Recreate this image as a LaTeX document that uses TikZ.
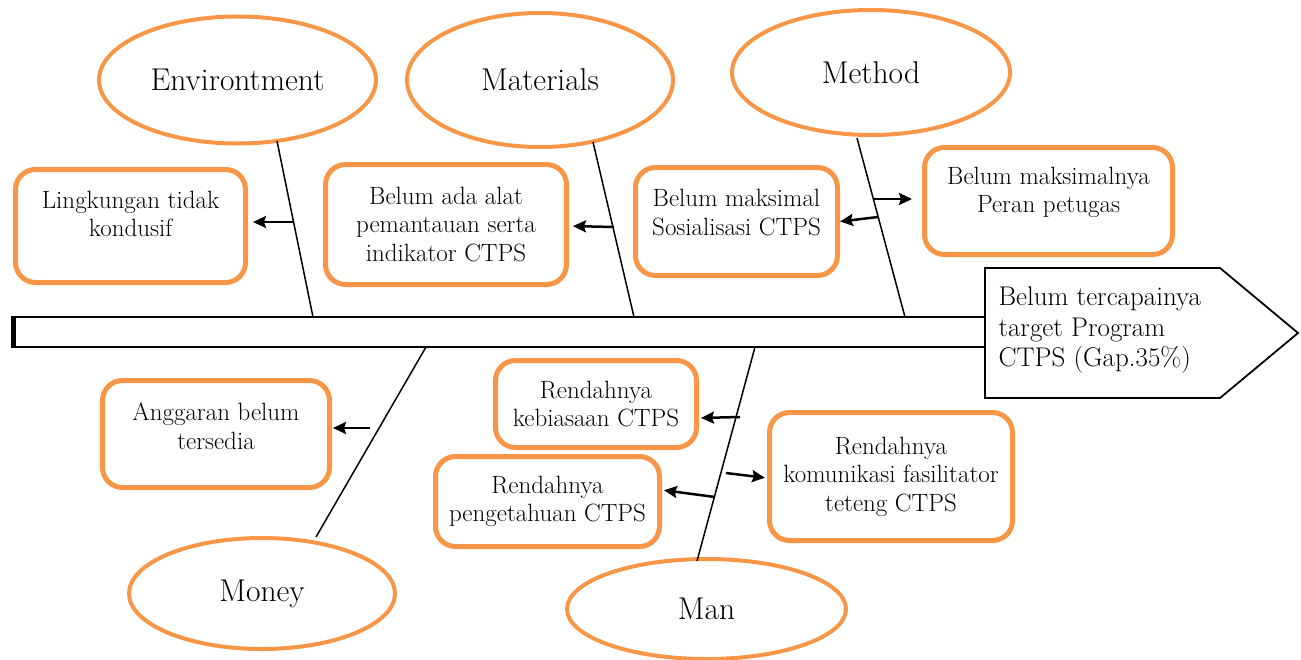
\documentclass[tikz,border=0pt]{standalone}
\usepackage{fontspec}
\usetikzlibrary{shapes.geometric,arrows.meta}
\definecolor{orng}{RGB}{247,150,70}

\begin{document}
\begin{tikzpicture}[x=1pt,y=-1pt,
    >={Stealth[length=13pt,width=12pt,inset=2pt]},
    cause/.style={ellipse, draw=orng, line width=4pt, inner sep=0pt,
                  font=\fontsize{31.5}{36}\selectfont},
    problem/.style={rectangle, rounded corners=20pt, draw=orng, line width=5pt,
                  align=center, font=\fontsize{25}{28.5}\selectfont},
    note/.style={align=center, font=\fontsize{25}{28.5}\selectfont},
    bone/.style={black, line width=1.5pt},
    link/.style={black, line width=2.5pt, shorten >=2pt}]

\useasboundingbox (0,0) rectangle (1301,659);

% spine and head
\draw[line width=2pt] (12,317) rectangle (985,347);
\draw[line width=4.5pt] (13.5,317) -- (13.5,347);
\draw[line width=1.8pt] (985,268) -- (1220,268) -- (1298,333) -- (1220,398)
    -- (985,398) -- cycle;
\node[anchor=west, align=left, font=\fontsize{27}{30.5}\selectfont]
    (gap) at (995,330) {Belum tercapainya\\target Program\\CTPS (Gap.35\%)};

% causes
\node[cause, minimum width=277pt, minimum height=127pt] (env) at (237.5,80)  {Environtment};
\node[cause, minimum width=266pt, minimum height=134pt] (mat) at (540,80)    {Materials};
\node[cause, minimum width=278pt, minimum height=125pt] (met) at (871,72.5)  {Method};
\node[cause, minimum width=266pt, minimum height=111pt] (mon) at (262,593.5) {Money};
\node[cause, minimum width=279pt, minimum height=100pt] (man) at (706.5,609) {Man};

% bones
\coordinate (envT) at (277,141);  \coordinate (envB) at (313,317);
\coordinate (matT) at (593,142);  \coordinate (matB) at (634,317);
\coordinate (metT) at (857,138);  \coordinate (metB) at (905,317);
\coordinate (monT) at (426,347);  \coordinate (monB) at (316,537);
\coordinate (manT) at (755,347);  \coordinate (manB) at (697,561);

\draw[bone] (envT) -- (envB);
\draw[bone] (matT) -- (matB);
\draw[bone] (metT) -- (metB);
\draw[bone] (monT) -- (monB);
\draw[bone] (manT) -- (manB);

% sub causes
\node[problem, minimum width=230pt, minimum height=113pt,
      label={[note, yshift=12pt]center:{Lingkungan tidak\\kondusif}}]
      (lingk) at (130.5,226) {};
\node[problem, minimum width=241pt, minimum height=120pt]
      (alat) at (446,224.5) {Belum ada alat\\pemantauan serta\\indikator CTPS};
\node[problem, minimum width=202pt, minimum height=108pt,
      label={[note, yshift=9pt]center:{Belum maksimal\\Sosialisasi CTPS}}]
      (sosial) at (736.5,221.5) {};
\node[problem, minimum width=248pt, minimum height=107pt,
      label={[note, yshift=8.5pt]center:{Belum maksimalnya\\Peran petugas}}]
      (peran) at (1048.5,201) {};
\node[problem, minimum width=227pt, minimum height=107pt,
      label={[note, yshift=7.5pt]center:{Anggaran belum\\tersedia}}]
      (anggaran) at (216,434) {};
\node[problem, minimum width=201pt, minimum height=87pt]
      (kebiasaan) at (596,404) {Rendahnya\\kebiasaan CTPS};
\node[problem, minimum width=224pt, minimum height=90pt]
      (pengetahuan) at (547.5,501.5) {Rendahnya\\pengetahuan CTPS};
\node[problem, minimum width=243pt, minimum height=128pt]
      (komunikasi) at (891,476.5) {Rendahnya\\komunikasi fasilitator\\teteng CTPS};

% arrow starts on the bones
\coordinate (eA) at (294,222);
\coordinate (mA) at (614,227);
\coordinate (sA) at (878,217);
\coordinate (sB) at (874,199);
\coordinate (yA) at (370,428);
\coordinate (nA) at (740,417);
\coordinate (nB) at (715,497);
\coordinate (nC) at (726,473);

\path[link,->]
    (eA) edge[shorten >=5pt] ([yshift=4pt]lingk.east)
    (mA) edge[shorten >=4pt] ([yshift=-1.5pt]alat.east)
    (sA) edge[shorten >=0pt] (sosial.east)
    (sB) edge[shorten >=10pt] ([yshift=2pt]peran.west)
    (yA) edge[shorten >=1pt] ([yshift=6pt]anggaran.east)
    (nA) edge                ([yshift=-14pt]kebiasaan.east)
    (nB) edge                ([yshift=11.5pt]pengetahuan.east)
    (nC) edge                ([yshift=-1.5pt]komunikasi.west);

\end{tikzpicture}
\end{document}
